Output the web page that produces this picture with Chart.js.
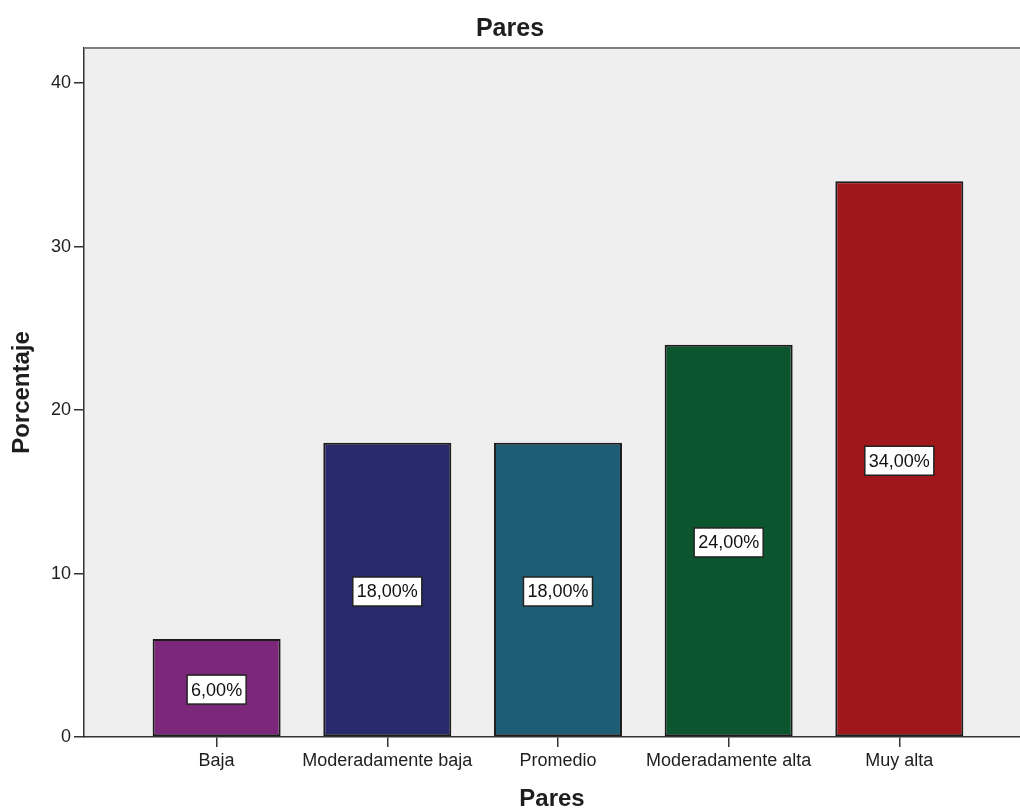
<!DOCTYPE html>
<html>
<head>
<meta charset="utf-8">
<script src="https://cdn.jsdelivr.net/npm/chart.js@4.4.1/dist/chart.umd.min.js"></script>
<style>
  html, body { margin: 0; padding: 0; background: #ffffff; }
  canvas { display: block; }
</style>
</head>
<body>
<canvas id="chart" width="1020" height="811"></canvas>
<script>
// Category labels, percentages per category and the bar colours
const categories = ['Baja', 'Moderadamente baja', 'Promedio', 'Moderadamente alta', 'Muy alta'];
const percentages = [6, 18, 18, 24, 34];
const barColors = ['#7b287b', '#29296e', '#1d5e74', '#0b562e', '#a0171b'];
const yTickValues = [0, 10, 20, 30, 40];

const chartTitle = 'Pares';
const xAxisTitle = 'Pares';
const yAxisTitle = 'Porcentaje';

const FONT = '"Liberation Sans", Arial, Helvetica, sans-serif';
const TEXT = '#1e1e1e';

// Grey plot background and the grey frame line along the top
const plotFrame = {
  id: 'plotFrame',
  beforeDraw(chart) {
    const { ctx, chartArea: a } = chart;
    ctx.save();
    ctx.fillStyle = '#ffffff';
    ctx.fillRect(0, 0, chart.width, chart.height);
    ctx.fillStyle = '#efefef';
    ctx.fillRect(a.left, a.top, a.right - a.left, a.bottom - a.top);
    ctx.restore();
  },
  afterDraw(chart) {
    const { ctx, chartArea: a } = chart;
    ctx.save();
    ctx.strokeStyle = '#808080';
    ctx.lineWidth = 2;
    ctx.beginPath();
    ctx.moveTo(a.left, a.top);
    ctx.lineTo(a.right, a.top);
    ctx.stroke();
    ctx.restore();
  }
};

// Boxed percentage label in the middle of each bar
const barLabels = {
  id: 'barLabels',
  afterDatasetsDraw(chart) {
    const { ctx } = chart;
    const meta = chart.getDatasetMeta(0);
    ctx.save();
    ctx.font = '18px ' + FONT;
    ctx.textAlign = 'center';
    ctx.textBaseline = 'middle';
    meta.data.forEach((bar, i) => {
      const text = percentages[i].toFixed(2).replace('.', ',') + '%';
      const w = ctx.measureText(text).width + 8;
      const h = 29;
      const cx = bar.x;
      const cy = (bar.y + bar.base) / 2 + 2;
      ctx.fillStyle = '#ffffff';
      ctx.fillRect(cx - w / 2, cy - h / 2, w, h);
      ctx.strokeStyle = '#222222';
      ctx.lineWidth = 1.5;
      ctx.strokeRect(cx - w / 2, cy - h / 2, w, h);
      ctx.fillStyle = '#111111';
      ctx.fillText(text, cx, cy + 1);
    });
    ctx.restore();
  }
};

new Chart(document.getElementById('chart'), {
  type: 'bar',
  data: {
    datasets: [{
      data: percentages.map((v, i) => ({ x: i, y: v })),
      backgroundColor: barColors,
      borderColor: '#1c1c1c',
      borderWidth: 2,
      borderSkipped: false,
      barPercentage: 0.75,
      categoryPercentage: 1
    }]
  },
  options: {
    responsive: false,
    animation: false,
    layout: { padding: 0 },
    plugins: {
      legend: { display: false },
      tooltip: { enabled: false },
      title: {
        display: true,
        text: chartTitle,
        color: TEXT,
        font: { family: FONT, size: 25, weight: 'bold', lineHeight: 1.2 },
        padding: { top: 14, bottom: 4 }
      }
    },
    scales: {
      x: {
        type: 'linear',
        offset: false,
        min: -0.777,
        max: 4.707,
        afterBuildTicks(scale) {
          scale.ticks = categories.map((c, i) => ({ value: i }));
        },
        afterFit(scale) { scale.height = 74; },
        ticks: {
          autoSkip: false,
          maxRotation: 0,
          minRotation: 0,
          padding: 3,
          color: TEXT,
          font: { family: FONT, size: 18 },
          callback: (v) => categories[v]
        },
        grid: {
          offset: false,
          drawOnChartArea: false,
          drawTicks: true,
          tickLength: 10,
          color: '#333333',
          lineWidth: 1.5
        },
        border: { display: true, color: '#333333', width: 1.5 },
        title: {
          display: true,
          text: xAxisTitle,
          color: TEXT,
          font: { family: FONT, size: 24, weight: 'bold', lineHeight: 1 },
          padding: { top: 0, bottom: 0 }
        }
      },
      y: {
        min: 0,
        max: 42.15,
        afterBuildTicks(scale) {
          scale.ticks = yTickValues.map(v => ({ value: v }));
        },
        afterFit(scale) { scale.width = 84; },
        ticks: {
          padding: 3,
          color: TEXT,
          font: { family: FONT, size: 18 }
        },
        grid: {
          drawOnChartArea: false,
          drawTicks: true,
          tickLength: 10,
          color: '#333333',
          lineWidth: 1.5
        },
        border: { display: true, color: '#333333', width: 1.5 },
        title: {
          display: true,
          text: yAxisTitle,
          color: TEXT,
          font: { family: FONT, size: 24, weight: 'bold', lineHeight: 1.2 },
          padding: { top: 8, bottom: 0 }
        }
      }
    }
  },
  plugins: [plotFrame, barLabels]
});
</script>
</body>
</html>
